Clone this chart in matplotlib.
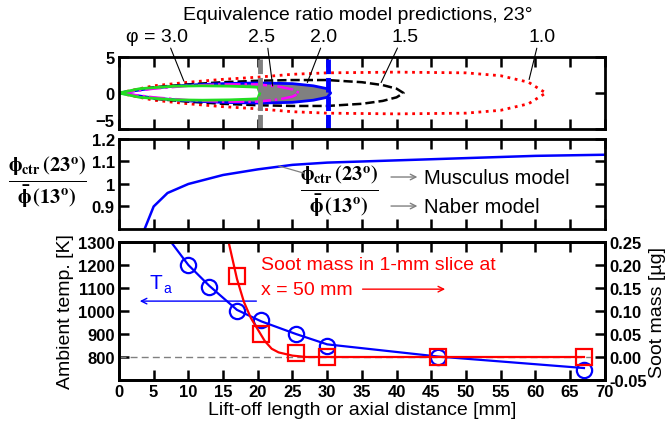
import matplotlib.pyplot as plt
import numpy as np

plt.rcParams['font.family'] = ['Liberation Sans', 'DejaVu Sans']
plt.rcParams['mathtext.fontset'] = 'stix'

# top panel: equivalence ratio contours (axial distance, half width)
phi10_x = [0, 5, 10, 15, 20, 25, 30, 40, 50, 55, 59, 61.5]
phi10_w = [0, 1.0, 1.5, 1.9, 2.2, 2.6, 2.8, 2.9, 2.8, 2.4, 1.5, 0]
phi15_x = [0, 5, 10, 15, 20, 25, 30, 35, 38, 40, 41]
phi15_w = [0, 0.8, 1.2, 1.5, 1.7, 1.8, 1.8, 1.5, 1.1, 0.6, 0]
phi20_x = [0, 5, 10, 15, 20, 25, 28, 30, 30.5]
phi20_w = [0, 0.7, 1.1, 1.3, 1.4, 1.3, 1.0, 0.6, 0]
phi25_x = [0, 5, 10, 15, 20, 23, 25, 26]
phi25_w = [0, 0.6, 1.0, 1.2, 1.2, 0.9, 0.5, 0]
phi30_x = [0, 3, 8, 12, 16, 19, 20, 20.3]
phi30_w = [0, 0.6, 0.95, 1.0, 0.95, 0.85, 0.8, 0]
lol_25 = 20.3
lol_20 = 30.1

# middle panel: ratio of centreline phi
ratio_x = [3.7, 5, 7, 10, 15, 20, 25, 30, 40, 50, 60, 70]
ratio_y = [0.8, 0.9, 0.96, 1.0, 1.04, 1.065, 1.085, 1.095, 1.105, 1.115, 1.125, 1.13]

# bottom panel
ta_x = [10, 13, 17, 20.5, 25.5, 30, 46, 67]
ta_y = [1200, 1105, 1000, 960, 900, 850, 800, 745]
ta_line_x = [7.5, 10, 13, 17, 20.5, 25.5, 30, 46, 67]
ta_line_y = [1300, 1200, 1110, 1005, 955, 900, 855, 802, 752]
soot_x = [17, 20.5, 25.5, 30, 46, 67]
soot_y = [0.175, 0.05, 0.008, 0.0, 0.0, 0.0]
soot_line_x = [15.8, 17, 18, 19, 20, 21, 22, 23, 25, 27, 67]
soot_line_y = [0.25, 0.17, 0.12, 0.085, 0.06, 0.035, 0.018, 0.01, 0.003, 0.0, 0.0]

fig = plt.figure(figsize=(6.72, 4.31), dpi=100)
L, W = 0.177, 0.723
ax1 = fig.add_axes([L, 0.6984, W, 0.167])
ax2 = fig.add_axes([L, 0.4664, W, 0.2088])
ax3 = fig.add_axes([L, 0.116, W, 0.3202])

TICK = 12
LAB = 14

def style(ax):
    for s in ax.spines.values():
        s.set_linewidth(2)
    ax.tick_params(direction='in', length=7, width=1.8, top=True, right=True, pad=3)
    ax.set_xlim(0, 70)
    ax.set_xticks(np.arange(0, 71, 5))

def bold_ticks(ax):
    for lab in ax.get_yticklabels() + ax.get_xticklabels():
        lab.set_fontweight('bold')
        lab.set_fontsize(TICK)

def outline(x, w):
    x = np.array(x)
    w = np.array(w)
    return np.concatenate([x, x[::-1]]), np.concatenate([w, -w[::-1]])

# --- top panel
style(ax1)
ax1.set_ylim(-5, 5)
ax1.set_yticks([-5, 0, 5])
ax1.set_xticklabels([])
bold_ticks(ax1)
ax1.get_yticklabels()[0].set_verticalalignment('bottom')
xs, ys = outline(phi10_x, phi10_w)
ax1.plot(xs, ys, color='red', ls=':', lw=2)
xs, ys = outline(phi15_x, phi15_w)
ax1.plot(xs, ys, color='black', ls='--', lw=1.8)
xs, ys = outline(phi20_x, phi20_w)
ax1.fill(xs, ys, color='gray')
ax1.plot(xs, ys, color='blue', lw=2)
xs, ys = outline(phi25_x, phi25_w)
ax1.plot(xs, ys, color='magenta', ls='-.', lw=1.8)
xs, ys = outline(phi30_x, phi30_w)
ax1.fill(xs, ys, color='white')
ax1.plot(xs, ys, color='#22dd22', lw=2)
ax1.axvline(lol_25, color='gray', lw=3.5, dashes=(3, 0.8))
ax1.axvline(lol_20, color='blue', lw=3.5, dashes=(3, 0.8))

labels = [('φ = 3.0', 5.5, 7.3, 9.5, 1.3), ('2.5', 20.6, 21.4, 22.2, 0.6),
          ('2.0', 29.5, 29.2, 27.0, 1.1), ('1.5', 41.2, 40.3, 37.6, 1.1),
          ('1.0', 61, 60.3, 59.0, 1.5)]
for txt, tx, lx0, lx1, ly1 in labels:
    ax1.text(tx, 7.9, txt, ha='center', va='center', fontsize=LAB, clip_on=False)
    ax1.annotate('', xy=(lx1, ly1), xytext=(lx0, 6.6),
                 arrowprops=dict(arrowstyle='-', color='black', lw=0.8),
                 annotation_clip=False)
fig.text(0.533, 0.965, 'Equivalence ratio model predictions, 23°',
         ha='center', va='center', fontsize=LAB)

# --- middle panel
style(ax2)
ax2.set_ylim(0.8, 1.2)
ax2.set_yticks([0.9, 1.0, 1.1, 1.2])
ax2.set_yticklabels(['0.9', '1', '1.1', '1.2'])
ax2.set_xticklabels([])
bold_ticks(ax2)
ax2.plot(ratio_x, ratio_y, color='blue', lw=1.8)
frac = r'$\mathbf{\frac{\phi_{ctr}\,(23^o)}{\bar{\phi}\,(13^o)}}$'
fig.text(0.07, 0.575, frac, ha='center', va='center', fontsize=21)
ax2.text(31.8, 0.969, frac, ha='center', va='center', fontsize=21)
ax2.annotate('', xy=(22.6, 1.084), xytext=(27.0, 1.045),
             arrowprops=dict(arrowstyle='-', color='gray', lw=0.9))
ax2.annotate('', xy=(43.4, 1.031), xytext=(38.8, 1.031),
             arrowprops=dict(arrowstyle='->', color='gray', lw=1.0))
ax2.annotate('', xy=(43.4, 0.902), xytext=(38.8, 0.902),
             arrowprops=dict(arrowstyle='->', color='gray', lw=1.0))
ax2.text(44.0, 1.031, 'Musculus model', ha='left', va='center', fontsize=14.5)
ax2.text(44.0, 0.902, 'Naber model', ha='left', va='center', fontsize=14.5)

# --- bottom panel
style(ax3)
ax3.tick_params(right=False)
ax3.set_ylim(700, 1300)
ax3.set_yticks(np.arange(800, 1301, 100))
bold_ticks(ax3)
ax3.set_xlabel('Lift-off length or axial distance [mm]', fontsize=LAB, labelpad=1)
ax3.set_ylabel('Ambient temp. [K]', fontsize=LAB, labelpad=3)
ax3.plot([0, 70], [800, 800], color='gray', lw=1.0, dashes=(5, 3))
ax3.plot(ta_line_x, ta_line_y, color='blue', lw=1.6)
ax3.plot(ta_x, ta_y, 'o', ms=11, mfc='none', mec='blue', mew=1.6, clip_on=False)
ax3.annotate('', xy=(2.6, 1043), xytext=(20.2, 1043),
             arrowprops=dict(arrowstyle='->', color='blue', lw=1.0))
ax3.text(6.3, 1122, 'T', color='blue', fontsize=15, ha='right', va='center')
ax3.text(6.4, 1100, 'a', color='blue', fontsize=10, ha='left', va='center')

ax4 = ax3.twinx()
ax4.set_ylim(-0.05, 0.25)
soot_ticks = np.arange(-0.05, 0.251, 0.05)
ax4.set_yticks(soot_ticks)
ax4.set_yticklabels(['%.2f' % v for v in soot_ticks], fontweight='bold', fontsize=TICK)
ax4.tick_params(direction='in', length=7, width=1.8, pad=3)
ax4.set_ylabel('Soot mass [µg]', fontsize=LAB, labelpad=2)
ax4.plot(soot_line_x, soot_line_y, color='red', lw=1.6)
ax4.plot(soot_x, soot_y, 's', ms=11, mfc='none', mec='red', mew=1.6, clip_on=False)
ax4.text(20.5, 0.20, 'Soot mass in 1-mm slice at', color='red', fontsize=LAB,
         ha='left', va='center')
ax4.text(20.5, 0.1475, 'x = 50 mm', color='red', fontsize=LAB, ha='left', va='center')
ax4.annotate('', xy=(47.4, 0.1475), xytext=(34.7, 0.1475),
             arrowprops=dict(arrowstyle='->', color='red', lw=1.0))
for s in ax4.spines.values():
    s.set_linewidth(2)

fig.savefig('out.png', dpi=100)
